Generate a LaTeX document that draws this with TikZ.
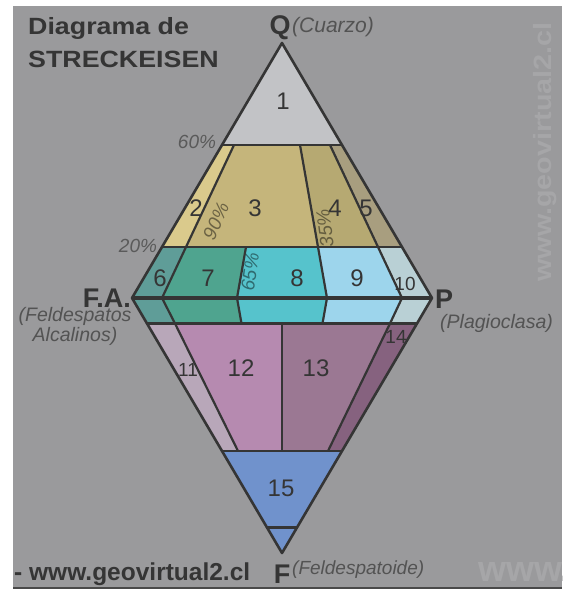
\documentclass[tikz,border=0pt]{standalone}
\usepackage{fontspec}
\setmainfont{Liberation Sans}
\definecolor{bg}{HTML}{9A9A9C}
\definecolor{ink}{HTML}{353535}
\definecolor{wm}{HTML}{A6A6A8}
\definecolor{pct}{HTML}{5A5A5A}
\definecolor{c1}{HTML}{C2C3C6}
\definecolor{c2}{HTML}{DACA8C}
\definecolor{c3}{HTML}{C5B57B}
\definecolor{c4}{HTML}{B6A972}
\definecolor{c5}{HTML}{A89E7F}
\definecolor{c6}{HTML}{5F9D98}
\definecolor{c7}{HTML}{4FA48F}
\definecolor{c8}{HTML}{56C3CC}
\definecolor{c9}{HTML}{9DD5EC}
\definecolor{c10}{HTML}{B9D0D5}
\definecolor{c11}{HTML}{B8A7B9}
\definecolor{c12}{HTML}{B68AB0}
\definecolor{c13}{HTML}{9B7893}
\definecolor{c14}{HTML}{86627F}
\definecolor{c15}{HTML}{7092CC}
\tikzset{
  edge/.style={draw=ink, line width=2.2pt, line join=round},
  num/.style={inner sep=0pt, text=ink, font=\fontsize{24}{24}\selectfont},
  smallnum/.style={inner sep=0pt, text=ink, font=\fontsize{19}{19}\selectfont},
  pctlab/.style={inner sep=0pt, text=pct, font=\itshape\fontsize{19}{19}\selectfont},
  vertex/.style={inner sep=0pt, text=ink, font=\bfseries\fontsize{27}{27}\selectfont},
  sublab/.style={inner sep=0pt, text=ink!85, font=\itshape\fontsize{19.5}{20}\selectfont},
}
\begin{document}
\begin{tikzpicture}[x=1pt,y=-1pt]
\useasboundingbox (0,0) rectangle (569,591);
\fill[white] (0,0) rectangle (569,591);
\fill[bg] (13,6) rectangle (562,587);
\draw[line width=2pt, draw=ink!90] (13,588) -- (562,588);

% vertices
\coordinate (Q) at (282,43);
\coordinate (FA) at (132,298);
\coordinate (P) at (432,298);
\coordinate (F) at (282,553);
% q = 60%
\coordinate (a0) at (222,145); \coordinate (a1) at (234,145); \coordinate (a2) at (300,145);
\coordinate (a3) at (330,145); \coordinate (a4) at (342,145);
% q = 20%
\coordinate (b0) at (162,247); \coordinate (b1) at (186,247); \coordinate (b2) at (246,247);
\coordinate (b3) at (318,247); \coordinate (b4) at (378,247); \coordinate (b5) at (402,247);
% axis
\coordinate (m1) at (162,298); \coordinate (m2) at (237,298); \coordinate (m3) at (327,298);
\coordinate (m4) at (402,298);
% f = 10%
\coordinate (d0) at (147,323.5); \coordinate (d1) at (175,323.5); \coordinate (d2) at (241.5,323.5);
\coordinate (d25) at (282,323.5);
\coordinate (d3) at (322.5,323.5); \coordinate (d4) at (390,323.5); \coordinate (d5) at (417,323.5);
% f = 60%
\coordinate (e0) at (222,451); \coordinate (e1) at (238,451); \coordinate (e2) at (282,451);
\coordinate (e3) at (328,451); \coordinate (e4) at (342,451);
% f = 90%
\coordinate (g0) at (267,527.5); \coordinate (g1) at (297,527.5);

% fills
\fill[c1] (Q) -- (a0) -- (a4) -- cycle;
\fill[c2] (a0) -- (a1) -- (b1) -- (b0) -- cycle;
\fill[c3] (a1) -- (a2) -- (b3) -- (b1) -- cycle;
\fill[c4] (a2) -- (a3) -- (b4) -- (b3) -- cycle;
\fill[c5] (a3) -- (a4) -- (b5) -- (b4) -- cycle;
\fill[c6] (b0) -- (b1) -- (m1) -- (d1) -- (d0) -- (FA) -- cycle;
\fill[c7] (b1) -- (b2) -- (m2) -- (d2) -- (d1) -- (m1) -- cycle;
\fill[c8] (b2) -- (b3) -- (m3) -- (d3) -- (d2) -- (m2) -- cycle;
\fill[c9] (b3) -- (b4) -- (m4) -- (d4) -- (d3) -- (m3) -- cycle;
\fill[c10] (b4) -- (b5) -- (P) -- (d5) -- (d4) -- (m4) -- cycle;
\fill[c11] (d0) -- (d1) -- (e1) -- (e0) -- cycle;
\fill[c12] (d1) -- (d25) -- (e2) -- (e1) -- cycle;
\fill[c13] (d25) -- (d4) -- (e3) -- (e2) -- cycle;
\fill[c14] (d4) -- (d5) -- (e4) -- (e3) -- cycle;
\fill[c15] (e0) -- (e4) -- (F) -- cycle;

% inner lines
\draw[edge] (a0) -- (a4);
\draw[edge] (b0) -- (b5);
\draw[edge] (d0) -- (d5);
\draw[edge] (e0) -- (e4);
\draw[edge] (g0) -- (g1);
\draw[edge] (a1) -- (b1) -- (m1) -- (d1) -- (e1);
\draw[edge] (a2) -- (b3);
\draw[edge] (a3) -- (b4);
\draw[edge] (b2) -- (m2) -- (d2);
\draw[edge] (b3) -- (m3) -- (d3);
\draw[edge] (b4) -- (m4) -- (d4) -- (e3);
\draw[edge] (d25) -- (e2);
% outline
\draw[edge, line width=2.6pt] (Q) -- (P) -- (F) -- (FA) -- cycle;
\draw[draw=ink, line width=4.5pt] (FA) -- (P);

% numbers
\node[num] (n1) at (283,101) {1};
\node[num] (n2) at (196,208) {2};
\node[num] (n3) at (255,208) {3};
\node[num] (n4) at (335,208) {4};
\node[num] (n5) at (366,208) {5};
\node[num] (n6) at (160,278) {6};
\node[num] (n7) at (208,278) {7};
\node[num] (n8) at (297,278) {8};
\node[num] (n9) at (357,278) {9};
\node[smallnum] (n10) at (405,284) {10};
\node[smallnum] (n11) at (188,370) {11};
\node[num] (n12) at (241,368) {12};
\node[num] (n13) at (316,368) {13};
\node[smallnum] (n14) at (396,337) {14};
\node[num] (n15) at (281,488) {15};

% percentages
\node[pctlab] (p60) at (197,142) {60\%};
\node[pctlab] (p20) at (138,246) {20\%};
\node[pctlab, text=c3!55!black, rotate=66] (p90) at (216,221) {90\%};
\node[pctlab, text=c4!55!black, rotate=97] (p35) at (325,228) {35\%};
\node[pctlab, text=c8!55!black, rotate=82] (p65) at (250,272) {65\%};

% vertex labels
\node[vertex, anchor=base] (lq) at (280,35) {Q};
\node[sublab, font=\itshape\fontsize{21}{21}\selectfont, anchor=base west] (lq2) at (292,33) {(Cuarzo)};
\node[vertex, anchor=base east] (lfa) at (131,307) {F.A.};
\node[sublab, align=center, anchor=north] (lfa2) at (75,307) {(Feldespatos\\Alcalinos)};
\node[vertex, anchor=base west] (lp) at (435,308) {P};
\node[sublab, anchor=base west] (lp2) at (440,328) {(Plagioclasa)};
\node[vertex, anchor=base] (lf) at (282,583) {F};
\node[sublab, font=\itshape\fontsize{19}{19}\selectfont, anchor=base west] (lf2) at (292,574) {(Feldespatoide)};

% title
\node[inner sep=0pt, anchor=base west, text=ink, font=\bfseries\fontsize{23.5}{23.5}\selectfont] (title1) at (28,35)
  {\scalebox{1.14}[1]{Diagrama de}};
\node[inner sep=0pt, anchor=base west, text=ink, font=\bfseries\fontsize{23.5}{23.5}\selectfont] (title2) at (28,68)
  {\scalebox{1.14}[1]{STRECKEISEN}};

% footer
\node[inner sep=0pt, anchor=base west, text=ink, font=\bfseries\fontsize{24.5}{24.5}\selectfont] (foot) at (14,580) {- www.geovirtual2.cl};
\begin{scope}
\clip (13,6) rectangle (562,587);
\node[inner sep=0pt, anchor=base west, text=wm, font=\bfseries\fontsize{36}{36}\selectfont] (wm1) at (478,581) {www.};
\node[inner sep=0pt, rotate=90, text=wm, font=\bfseries\fontsize{25}{25}\selectfont] (wm2) at (545,152) {\scalebox{1.15}[1]{www.geovirtual2.cl}};
\end{scope}
\end{tikzpicture}
\end{document}
